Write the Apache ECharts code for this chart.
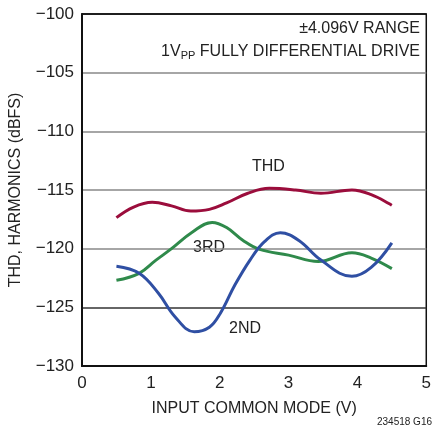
<!DOCTYPE html>
<html>
<head>
<meta charset="utf-8">
<script src="https://cdn.jsdelivr.net/npm/echarts@6/dist/echarts.min.js"></script>
<style>
  html, body { margin: 0; padding: 0; background: #fff; }
  #chart { width: 434px; height: 431px; }
</style>
</head>
<body>
<div id="chart"></div>
<script>
// input common mode (V) and level (dBFS), one pair of arrays per curve
var thdX = [0.5, 0.75, 1.02, 1.3, 1.58, 1.85, 2.1, 2.4, 2.72, 3.1, 3.47, 3.92, 4.2, 4.5];
var thdY = [-117.35, -116.45, -116.05, -116.35, -116.8, -116.65, -116.1, -115.3, -114.86, -115.0, -115.28, -115.0, -115.4, -116.3];
var thirdX = [0.5, 0.83, 1.07, 1.3, 1.6, 1.89, 2.1, 2.34, 2.58, 3.0, 3.43, 3.92, 4.2, 4.5];
var thirdY = [-122.7, -122.1, -121.0, -120.0, -118.6, -117.76, -118.2, -119.3, -120.06, -120.55, -121.1, -120.35, -120.8, -121.7];
var secondX = [0.5, 0.83, 1.11, 1.35, 1.63, 1.85, 2.01, 2.22, 2.44, 2.65, 2.88, 3.15, 3.47, 3.92, 4.2, 4.5];
var secondY = [-121.5, -122.1, -123.8, -125.8, -127.08, -126.7, -125.5, -123.1, -120.97, -119.4, -118.64, -119.3, -120.97, -122.36, -121.6, -119.5];

var font = "'Liberation Sans Narrow', 'Liberation Sans', Arial, sans-serif";

function pairs(xs, ys) {
    var out = [];
    for (var i = 0; i < xs.length; i++) {
        out.push([xs[i], ys[i]]);
    }
    return out;
}

function curve(name, xs, ys, color) {
    return {
        name: name,
        type: 'line',
        data: pairs(xs, ys),
        smooth: 0.4,
        showSymbol: false,
        lineStyle: { color: color, width: 3 },
        silent: true
    };
}

var chart = echarts.init(document.getElementById('chart'));
chart.setOption({
    animation: false,
    textStyle: { fontFamily: font },
    grid: { left: 78, top: 14, right: 2, bottom: 65, show: true, borderColor: '#111', borderWidth: 1.5 },
    xAxis: {
        type: 'value', min: 0, max: 5, interval: 1,
        name: 'INPUT COMMON MODE (V)', nameLocation: 'middle', nameGap: 35,
        nameTextStyle: { fontSize: 16, color: '#222', fontFamily: font },
        axisLine: { lineStyle: { color: '#111', width: 2 } },
        axisTick: { show: false },
        axisLabel: { fontSize: 17, color: '#222', margin: 9, fontFamily: font },
        splitLine: { show: false }
    },
    yAxis: {
        type: 'value', min: -130, max: -100, interval: 5,
        name: 'THD, HARMONICS (dBFS)', nameLocation: 'middle', nameGap: 58,
        nameTextStyle: { fontSize: 16, color: '#222', fontFamily: font },
        axisLine: { show: true, lineStyle: { color: '#111', width: 2 } },
        axisTick: { show: false },
        axisLabel: {
            fontSize: 17, color: '#222', margin: 8, fontFamily: font,
            formatter: function (v) { return String(v).replace('-', '\u2212'); }
        },
        splitLine: { show: true, lineStyle: { color: ['#111', '#333', '#888', '#888', '#888', '#888', '#111'], width: 1.5 } }
    },
    series: [
        curve('THD', thdX, thdY, '#9b0d3c'),
        curve('3RD', thirdX, thirdY, '#2f8a4b'),
        curve('2ND', secondX, secondY, '#2f4fa3')
    ],
    graphic: [
        { type: 'text', left: 252, top: 159, style: { text: 'THD', font: '16px ' + font, fill: '#222' } },
        { type: 'rect', shape: { x: 188, y: 238, width: 40, height: 20 }, style: { fill: '#fff' } },
        { type: 'text', left: 193, top: 240, style: { text: '3RD', font: '16px ' + font, fill: '#222' } },
        { type: 'text', left: 229, top: 321, style: { text: '2ND', font: '16px ' + font, fill: '#222' } },
        { type: 'text', right: 14, top: 21, style: { text: '\u00b14.096V RANGE', font: '16px ' + font, fill: '#222', align: 'right' } },
        {
            type: 'text', right: 14, top: 44,
            style: {
                rich: {
                    n: { fontSize: 16, fontFamily: font, fill: '#222' },
                    s: { fontSize: 11, fontFamily: font, fill: '#222', padding: [7, 0, 0, 0] }
                },
                text: '{n|1V}{s|PP}{n| FULLY DIFFERENTIAL DRIVE}'
            }
        },
        { type: 'text', right: 2, top: 417, style: { text: '234518 G16', font: '10px ' + font, fill: '#222' } }
    ]
});
</script>
</body>
</html>
